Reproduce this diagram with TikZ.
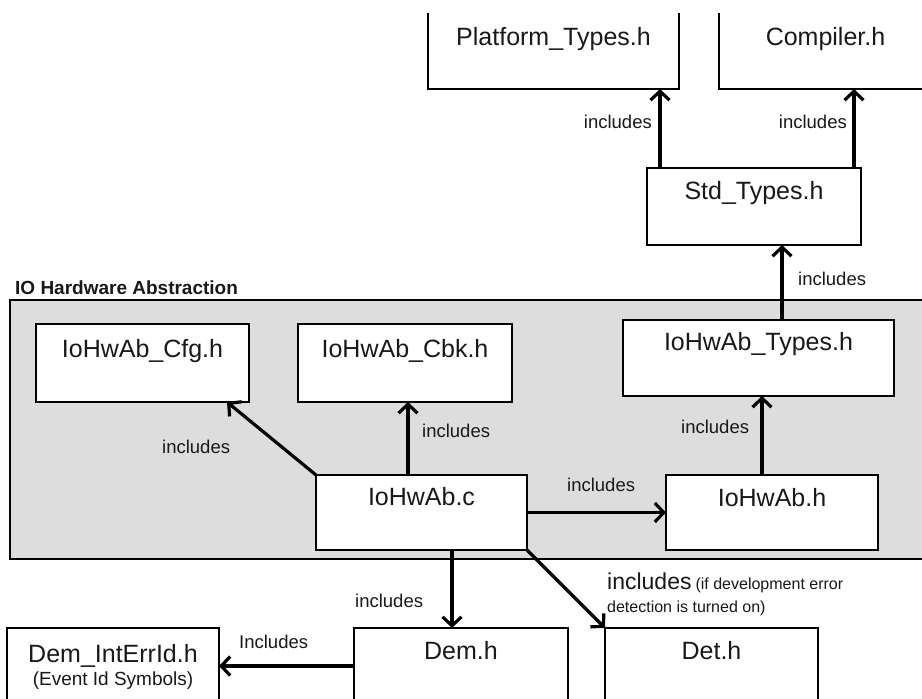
\documentclass[tikz,border=0pt]{standalone}
\usepackage{fontspec}
\setmainfont{Liberation Sans}
\usetikzlibrary{arrows.meta}
\definecolor{panelgrey}{RGB}{221,221,221}
\definecolor{ink}{RGB}{25,25,25}

\begin{document}
\begin{tikzpicture}[x=1pt,y=-1pt,
  hdr/.style={draw=black, line width=2pt, fill=white, inner sep=0pt, outer sep=0pt, anchor=north west},
  ghost/.style={inner sep=0pt, outer sep=0pt, anchor=north west},
  frame/.style={draw=black, line width=2pt},
  fname/.style={font=\fontsize{25}{28}\selectfont, text=ink, inner sep=0pt, anchor=base},
  inc/.style={font=\fontsize{18.5}{20}\selectfont, text=ink, inner sep=0pt},
  dep/.style={line width=3.2pt, -{Straight Barb[length=9pt,width=19pt]}},
]
\useasboundingbox (0,0) rectangle (922,699);
\clip (0,0) rectangle (922,699);
\fill[white] (0,0) rectangle (922,699);

% ---- IO Hardware Abstraction panel ----
\node[font=\bfseries\fontsize{19}{21}\selectfont, text=ink, inner sep=0pt, anchor=base west] (paneltitle) at (15,294) {IO Hardware Abstraction};
\node[ghost, draw=black, line width=2pt, fill=panelgrey, minimum width=930pt, minimum height=259pt] (panel) at (10,300) {};

% ---- platform headers (open at the top) ----
\node[ghost, minimum width=251pt, minimum height=76pt] (plat) at (428,13) {};
\draw[frame] (plat.north west) -- (plat.south west) -- (plat.south east) -- (plat.north east);
\node[fname] (platT) at ([yshift=-32pt]plat.north) {Platform\_Types.h};

\node[ghost, minimum width=213pt, minimum height=76pt] (comp) at (719,13) {};
\draw[frame] (comp.north west) -- (comp.south west) -- (comp.south east) -- (comp.north east);
\node[fname] (compT) at ([yshift=-32pt]comp.north) {Compiler.h};

\node[hdr, minimum width=214pt, minimum height=77pt] (std) at (647,168) {};
\node[fname] (stdT) at ([yshift=-31pt]std.north) {Std\_Types.h};

% ---- module files ----
\node[hdr, minimum width=213pt, minimum height=78pt] (cfg) at (36,324) {};
\node[fname] (cfgT) at ([yshift=-33pt]cfg.north) {IoHwAb\_Cfg.h};

\node[hdr, minimum width=214pt, minimum height=78pt] (cbk) at (298,324) {};
\node[fname] (cbkT) at ([yshift=-33pt]cbk.north) {IoHwAb\_Cbk.h};

\node[hdr, minimum width=271pt, minimum height=76pt] (types) at (623,320) {};
\node[fname] (typesT) at ([yshift=-30pt]types.north) {IoHwAb\_Types.h};

\node[hdr, minimum width=211pt, minimum height=75pt] (src) at (316,475) {};
\node[fname] (srcT) at ([yshift=-30pt]src.north) {IoHwAb.c};

\node[hdr, minimum width=212pt, minimum height=75pt] (hwh) at (666,475) {};
\node[fname] (hwhT) at ([yshift=-31pt]hwh.north) {IoHwAb.h};

% ---- external modules ----
\node[hdr, minimum width=214pt, minimum height=76pt] (dem) at (354,628) {};
\node[fname] (demT) at ([yshift=-31pt]dem.north) {Dem.h};

\node[hdr, minimum width=213pt, minimum height=76pt] (det) at (605,628) {};
\node[fname] (detT) at ([yshift=-31pt]det.north) {Det.h};

\node[hdr, minimum width=212pt, minimum height=76pt] (demint) at (7,628) {};
\node[fname] (demintT) at ([yshift=-34pt]demint.north) {Dem\_IntErrId.h};
\node[fname, font=\fontsize{19}{21}\selectfont] (demintS) at ([yshift=-57pt]demint.north) {(Event Id Symbols)};

% ---- include relations ----
\coordinate (s1) at ([xshift=13pt]std.north west);
\coordinate (s2) at ([xshift=-7pt]std.north east);
\coordinate (t1) at ([xshift=159pt]types.north west);
\coordinate (h1) at ([xshift=96pt]hwh.north west);
\coordinate (c1) at ([xshift=92pt]src.north west);
\coordinate (c2) at ([xshift=136pt]src.south west);
\coordinate (cfgin) at ([xshift=-22pt]cfg.south east);

\draw[dep] (s1) -- (s1 |- plat.south);
\draw[dep] (s2) -- (s2 |- comp.south);
\draw[dep] (t1) -- (t1 |- std.south);
\draw[dep] (h1) -- (h1 |- types.south);
\draw[dep] (c1) -- (c1 |- cbk.south);
\draw[dep] (src.north west) -- (cfgin);
\draw[dep] (src.east) -- (hwh.west);
\draw[dep] (c2) -- (c2 |- dem.north);
\draw[dep] (src.south east) -- (det.north west);
\draw[dep] (dem.west) -- (demint.east);

% ---- relation labels ----
\node[inc, anchor=base east] (l1) at (652,128) {includes};
\node[inc, anchor=base east] (l2) at (847,128) {includes};
\node[inc, anchor=base west] (l3) at (798,285) {includes};
\node[inc, anchor=base west] (l4) at (681,433) {includes};
\node[inc, anchor=base west] (l5) at (422,437) {includes};
\node[inc, anchor=base west] (l6) at (162,453) {includes};
\node[inc, anchor=base west] (l7) at (567,491) {includes};
\node[inc, anchor=base west] (l8) at (355,607) {includes};
\node[inc, anchor=base west] (l9) at (239,648) {Includes};
\node[text=ink, inner sep=0pt, anchor=base west] (l10a) at (607,589)
  {{\fontsize{23}{25}\selectfont includes}\hspace{4pt}{\fontsize{16}{18}\selectfont (if development error}};
\node[text=ink, inner sep=0pt, anchor=base west, font=\fontsize{16}{18}\selectfont] (l10b) at (607,612)
  {detection is turned on)};
\end{tikzpicture}
\end{document}
